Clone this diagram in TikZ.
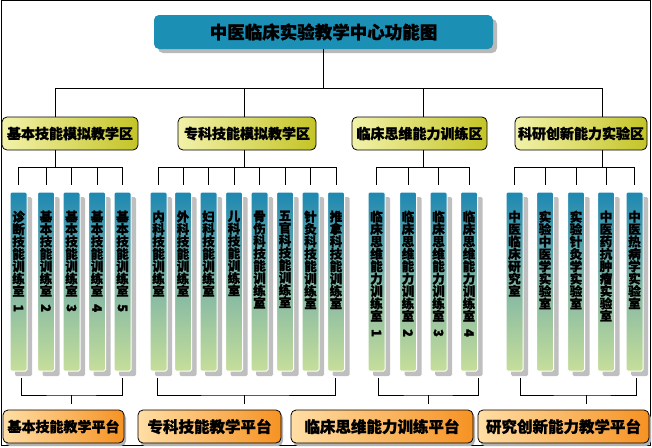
\documentclass[tikz,border=0pt]{standalone}
\usepackage{fontspec}
\usepackage{graphicx}
\setmainfont{Noto Sans CJK SC}[BoldFeatures={FakeBold=1.2}]
\usetikzlibrary{calc,shadows}
\definecolor{titleblue}{RGB}{28,143,181}
\definecolor{zoneL}{RGB}{242,242,170}
\definecolor{zoneR}{RGB}{196,196,40}
\definecolor{platL}{RGB}{255,222,165}
\definecolor{platR}{RGB}{246,146,35}
\definecolor{stripT}{RGB}{30,136,178}
\definecolor{stripM}{RGB}{125,180,165}
\definecolor{stripB}{RGB}{198,222,154}
\newcommand{\rdig}[1]{\rotatebox{-90}{\fontsize{13}{13}\selectfont #1}}
\begin{document}
\begin{tikzpicture}[x=1pt,y=-1pt,
  conn/.style={draw=black,line width=0.8pt},
  titlebox/.style={rounded corners=5pt,fill=titleblue,minimum width=339pt,minimum height=34pt,inner sep=0pt,
    font=\fontsize{17.5}{20}\selectfont\bfseries,
    drop shadow={shadow xshift=4pt,shadow yshift=-4pt,fill=gray!55,opacity=1}},
  zonebox/.style={draw=black,line width=0.8pt,rounded corners=5pt,left color=zoneL,right color=zoneR,
    minimum height=33pt,inner sep=0pt,font=\fontsize{14}{16}\selectfont\bfseries},
  stripbox/.style={draw=white,line width=1pt,rounded corners=1.5pt,top color=stripT,bottom color=stripB,middle color=stripM,
    minimum width=17pt,minimum height=179pt,inner sep=0pt,
    drop shadow={shadow xshift=5pt,shadow yshift=-5pt,fill=gray!50,opacity=1}},
  stext/.style={anchor=north,inner sep=0pt,align=center,font=\fontsize{12.5}{12.4}\selectfont\bfseries},
  platbox/.style={draw=black,line width=0.8pt,rounded corners=5pt,left color=platL,right color=platR,
    minimum height=33pt,inner sep=0pt,font=\fontsize{15.5}{18}\selectfont\bfseries,
    drop shadow={shadow xshift=2pt,shadow yshift=-3pt,fill=gray!60,opacity=1}}
]
\useasboundingbox (0,0) rectangle (652,447);
\draw[line width=1pt] (1.5,0.5) rectangle (650.5,445.5);

% title
\node[titlebox] (title) at (323.5,32) {中医临床实验教学中心功能图};

% zones
\node[zonebox,minimum width=136pt] (z1) at (70,133.5) {基本技能模拟教学区};
\node[zonebox,minimum width=138pt] (z2) at (247,133.5) {专科技能模拟教学区};
\node[zonebox,minimum width=135pt] (z3) at (419.5,133.5) {临床思维能力训练区};
\node[zonebox,minimum width=132pt] (z4) at (581,133.5) {科研创新能力实验区};

% strips
\foreach \x/\t/\n in {
  18.5/{诊\\断\\技\\能\\训\\练\\室\\[-4pt]\rdig{1}}/s1,
  46/{基\\本\\技\\能\\训\\练\\室\\[-4pt]\rdig{2}}/s2,
  71.5/{基\\本\\技\\能\\训\\练\\室\\[-4pt]\rdig{3}}/s3,
  97/{基\\本\\技\\能\\训\\练\\室\\[-4pt]\rdig{4}}/s4,
  122.5/{基\\本\\技\\能\\训\\练\\室\\[-4pt]\rdig{5}}/s5,
  158.5/{内\\科\\技\\能\\训\\练\\室}/s6,
  183/{外\\科\\技\\能\\训\\练\\室}/s7,
  208.5/{妇\\科\\技\\能\\训\\练\\室}/s8,
  234/{儿\\科\\技\\能\\训\\练\\室}/s9,
  259.5/{骨\\伤\\科\\技\\能\\训\\练\\室}/s10,
  285/{五\\官\\科\\技\\能\\训\\练\\室}/s11,
  310.5/{针\\灸\\科\\技\\能\\训\\练\\室}/s12,
  336/{推\\拿\\科\\技\\能\\训\\练\\室}/s13,
  376.5/{临\\床\\思\\维\\能\\力\\训\\练\\室\\[-4pt]\rdig{1}}/s14,
  408/{临\\床\\思\\维\\能\\力\\训\\练\\室\\[-4pt]\rdig{2}}/s15,
  438.5/{临\\床\\思\\维\\能\\力\\训\\练\\室\\[-4pt]\rdig{3}}/s16,
  469/{临\\床\\思\\维\\能\\力\\训\\练\\室\\[-4pt]\rdig{4}}/s17,
  514.5/{中\\医\\临\\床\\研\\究\\室}/s18,
  545/{实\\验\\中\\医\\学\\实\\验\\室}/s19,
  576/{实\\验\\针\\灸\\学\\实\\验\\室}/s20,
  606/{中\\医\\药\\抗\\肿\\瘤\\实\\验\\室}/s21,
  634.5/{中\\医\\热\\病\\学\\实\\验\\室}/s22}{
  \node[stripbox] (\n) at (\x,281.5) {};
  \node[stext] (\n t) at (\x,210.5) {\t};
}

% platforms
\node[platbox,minimum width=121pt,font=\fontsize{14}{16}\selectfont\bfseries] (p1) at (63.5,426.5) {基本技能教学平台};
\node[platbox,minimum width=143pt] (p2) at (209.5,426.5) {专科技能教学平台};
\node[platbox,minimum width=182pt] (p3) at (382,426.5) {临床思维能力训练平台};
\node[platbox,minimum width=171pt] (p4) at (563.5,426.5) {研究创新能力教学平台};

% top connectors
\coordinate (t1) at (55,88);
\coordinate (t2) at (244,88);
\coordinate (t3) at (423,88);
\coordinate (t4) at (602,88);
\draw[conn] (title.south) -- (title.south |- t1);
\draw[conn] (t1) -- (t4);
\foreach \i in {1,2,3,4}{\draw[conn] (t\i) -- (t\i |- z\i.north);}

% zone to strips
\coordinate (u1) at (55,167);
\coordinate (u2) at (244,167);
\coordinate (u3) at (423,167);
\coordinate (u4) at (602,167);
\foreach \i in {1,2,3,4}{\draw[conn] (u\i |- z\i.south) -- (u\i);}
\draw[conn] (s1.north |- u1) -- (s5.north |- u1);
\draw[conn] (s6.north |- u2) -- (s13.north |- u2);
\draw[conn] (s14.north |- u3) -- (s17.north |- u3);
\draw[conn] (s18.north |- u4) -- (s22.north |- u4);
\foreach \i/\j in {1/1,2/1,3/1,4/1,5/1,6/2,7/2,8/2,9/2,10/2,11/2,12/2,13/2,14/3,15/3,16/3,17/3,18/4,19/4,20/4,21/4,22/4}{
  \draw[conn] (s\i.north |- u\j) -- ($(s\i.north)+(0,-7)$);
}

% strips to platforms
\coordinate (l1) at (71,395);
\coordinate (l2) at (244,395);
\coordinate (l3) at (428,395);
\coordinate (l4) at (586,395);
\draw[conn] ($(s1.south)+(2.5,6)$) |- (l1) -| ($(s5.south)+(0,6)$);
\draw[conn] ($(s6.south)+(-1.5,6)$) |- (l2) -| ($(s13.south)+(-1,6)$);
\draw[conn] ($(s14.south)+(1.5,6)$) |- (l3) -| ($(s17.south)+(9,6)$);
\draw[conn] ($(s18.south)+(5.5,6)$) |- (l4) -| ($(s22.south)+(1.5,6)$);
\foreach \i in {1,2,3,4}{\draw[conn] (l\i) -- ($(l\i |- p\i.north)+(0,-6)$);}
\end{tikzpicture}
\end{document}
